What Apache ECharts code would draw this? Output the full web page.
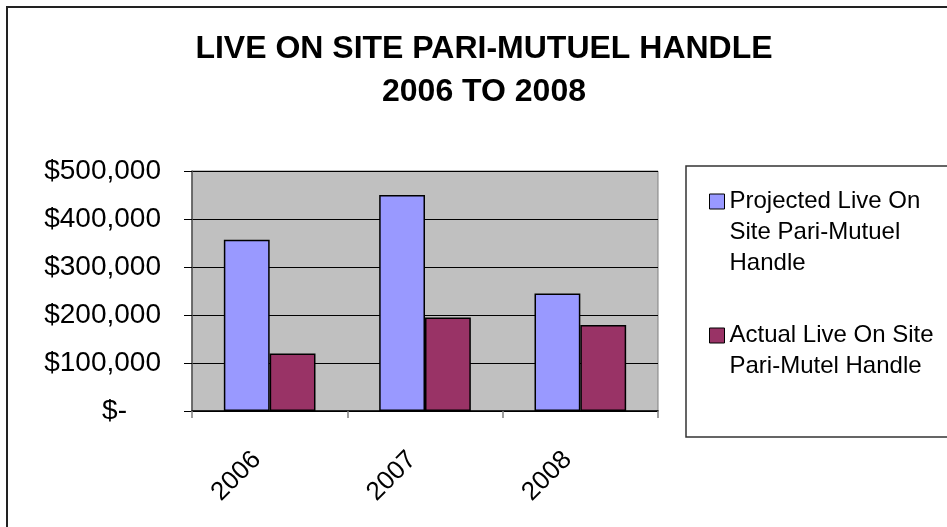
<!DOCTYPE html>
<html>
<head>
<meta charset="utf-8">
<script src="https://cdn.jsdelivr.net/npm/echarts@6/dist/echarts.min.js"></script>
<style>
  html, body { margin: 0; padding: 0; background: #fff; }
  #main { width: 947px; height: 527px; }
</style>
</head>
<body>
<div id="main"></div>
<script>
// chart data
const years = ["2006", "2007", "2008"];
const projected = [357000, 450000, 245000];
const actual = [120000, 195000, 179000];
const seriesNames = [
  "Projected Live On Site Pari-Mutuel Handle",
  "Actual Live On Site Pari-Mutel Handle"
];
// legend text as it wraps in the picture (blank lines keep icon on first line)
const legendText = {};
legendText[seriesNames[0]] = "\n\nProjected Live On\nSite Pari-Mutuel\nHandle";
legendText[seriesNames[1]] = "\nActual Live On Site\nPari-Mutel Handle";

const font = "Liberation Sans, Arial, sans-serif";
let myChart = echarts.init(document.getElementById("main"));

let option = {
  animation: false,
  backgroundColor: "#fff",
  title: {
    text: "LIVE ON SITE PARI-MUTUEL HANDLE\n2006 TO 2008",
    left: 479,
    top: 23,
    textAlign: "center",
    textStyle: {
      fontFamily: font,
      fontSize: 32,
      fontWeight: "bold",
      lineHeight: 43,
      color: "#000"
    }
  },
  graphic: [
    {
      type: "rect",
      shape: { x: 7, y: 7, width: 960, height: 540 },
      style: { fill: "none", stroke: "#222", lineWidth: 2 },
      z: 0
    },
    {
      type: "rect",
      shape: { x: 686, y: 166, width: 300, height: 271 },
      style: { fill: "#fff", stroke: "#333", lineWidth: 1.5 },
      z: 0
    }
  ],
  legend: {
    orient: "vertical",
    left: 704,
    top: 119,
    itemGap: 10,
    itemWidth: 15,
    itemHeight: 15,
    icon: "rect",
    itemStyle: { borderColor: "#000", borderWidth: 1 },
    formatter: function (name) { return legendText[name]; },
    textStyle: {
      fontFamily: font,
      fontSize: 24,
      lineHeight: 31,
      color: "#000"
    },
    data: seriesNames
  },
  grid: {
    left: 192,
    right: 289,
    top: 171,
    bottom: 116,
    show: true,
    backgroundColor: "#c0c0c0",
    borderColor: "#808080",
    borderWidth: 1
  },
  xAxis: {
    type: "category",
    data: years,
    axisLine: { lineStyle: { color: "#000", width: 1.5 } },
    axisTick: { show: true, length: 7, lineStyle: { color: "#808080", width: 1.5 } },
    axisLabel: {
      rotate: 45,
      margin: 32,
      fontFamily: font,
      fontSize: 26,
      color: "#000",
      padding: [0, 18, 0, 0]
    },
    splitLine: { show: false }
  },
  yAxis: {
    type: "value",
    min: 0,
    max: 500000,
    interval: 100000,
    axisLine: { show: true, lineStyle: { color: "#555", width: 1.5 } },
    axisTick: { show: true, length: 8, lineStyle: { color: "#000" } },
    axisLabel: {
      margin: 31,
      fontFamily: font,
      fontSize: 28,
      color: "#000",
      formatter: function (v) {
        if (v === 0) return "{z|$-}";
        return "$" + v.toLocaleString("en-US");
      },
      rich: {
        z: { fontFamily: font, fontSize: 28, color: "#000", padding: [0, 34, 0, 0] }
      }
    },
    splitLine: { show: true, lineStyle: { color: "#000", width: 1 } }
  },
  series: [
    {
      name: seriesNames[0],
      type: "bar",
      barGap: "0%",
      barCategoryGap: "41%",
      itemStyle: { color: "#9999ff", borderColor: "#000", borderWidth: 1.5 },
      data: projected
    },
    {
      name: seriesNames[1],
      type: "bar",
      itemStyle: { color: "#993366", borderColor: "#000", borderWidth: 1.5 },
      data: actual
    }
  ]
};
myChart.setOption(option);
</script>
</body>
</html>
